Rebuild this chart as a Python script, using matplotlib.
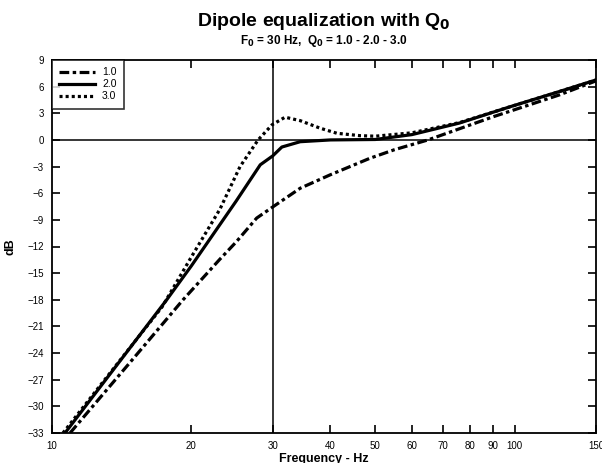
import matplotlib
matplotlib.use('Agg')
import matplotlib.pyplot as plt

plt.rcParams['font.family'] = ['Liberation Sans', 'DejaVu Sans']
plt.rcParams['lines.scale_dashes'] = False
plt.rcParams['mathtext.default'] = 'bf'

# Response curves (frequency in Hz, level in dB)
freq_q1 = [10.94, 15, 19.2, 23, 25, 27.7, 30.1, 34.4, 39.9, 48.7, 55, 65, 75, 89.8, 100, 125, 150]
db_q1 = [-33, -24.6, -18.0, -13.5, -11.5, -8.8, -7.5, -5.44, -3.94, -2.06, -1.1, 0.0, 1.15, 2.6, 3.4, 5.07, 6.65]

freq_q2 = [10.67, 17.7, 20, 25, 28.2, 30, 31.4, 34.4, 40, 50, 60, 76, 98, 125, 150]
db_q2 = [-33, -18.0, -14.2, -6.9, -2.8, -1.8, -0.8, -0.2, 0.0, 0.05, 0.6, 1.9, 3.75, 5.45, 6.75]

freq_q3 = [10.56, 13, 17.3, 20, 23.07, 25.5, 27.9, 29.9, 31.9, 34.4, 38, 41.3, 46.3, 50, 60, 76, 98, 125, 150]
db_q3 = [-33, -27.0, -18.8, -13.2, -7.8, -3.0, 0.0, 1.7, 2.56, 2.17, 1.32, 0.75, 0.48, 0.42, 0.8, 1.95, 3.75, 5.45, 6.75]

q_labels = ['1.0', '2.0', '3.0']
x_ticks = [10, 20, 30, 40, 50, 60, 70, 80, 90, 100, 150]
y_ticks = list(range(-33, 10, 3))

fig = plt.figure(figsize=(6.02, 4.63), dpi=100)
ax = fig.add_axes([52/602, 1-433/463, 544/602, 373/463])

ax.plot(freq_q1, db_q1, color='k', lw=2.3, linestyle=(0, (7, 2.5, 2.5, 2.5)), label=q_labels[0])
ax.plot(freq_q2, db_q2, color='k', lw=2.3, linestyle='-', label=q_labels[1])
ax.plot(freq_q3, db_q3, color='k', lw=2.3, linestyle=(0, (2.2, 2.2)), label=q_labels[2])

# reference lines at 0 dB and at F0
ax.axhline(0, color='k', lw=1.1, zorder=1)
ax.axvline(30, color='k', lw=1.1, zorder=1)

ax.set_xscale('log')
ax.set_xlim(10, 150)
ax.set_ylim(-33, 9)
ax.set_xticks(x_ticks)
ax.set_xticklabels([str(t) for t in x_ticks])
ax.xaxis.set_minor_locator(matplotlib.ticker.NullLocator())
ax.set_yticks(y_ticks)
ax.tick_params(direction='in', length=6, width=1.2, labelsize=7, top=True, right=True, pad=6)
for s in ax.spines.values():
    s.set_linewidth(1.3)

ax.set_xlabel('Frequency - Hz', fontsize=9, fontweight='bold', labelpad=1)
ax.set_ylabel('dB', fontsize=9, fontweight='bold', labelpad=8)

fig.text(324/602, 1-22/463, r'Dipole equalization with Q$_0$', ha='center', va='center',
         fontsize=14, fontweight='bold')
fig.text(324/602, 1-41/463, r'F$_0$ = 30 Hz,  Q$_0$ = 1.0 - 2.0 - 3.0', ha='center', va='center',
         fontsize=8.5, fontweight='bold')

leg = ax.legend(loc='upper left', fontsize=7.5, frameon=True, fancybox=False, borderaxespad=0,
                handlelength=3.4, labelspacing=0.2, borderpad=0.7, handletextpad=0.7)
leg.get_frame().set_edgecolor('k')
leg.get_frame().set_linewidth(1.2)

fig.savefig('out.png', dpi=100)
